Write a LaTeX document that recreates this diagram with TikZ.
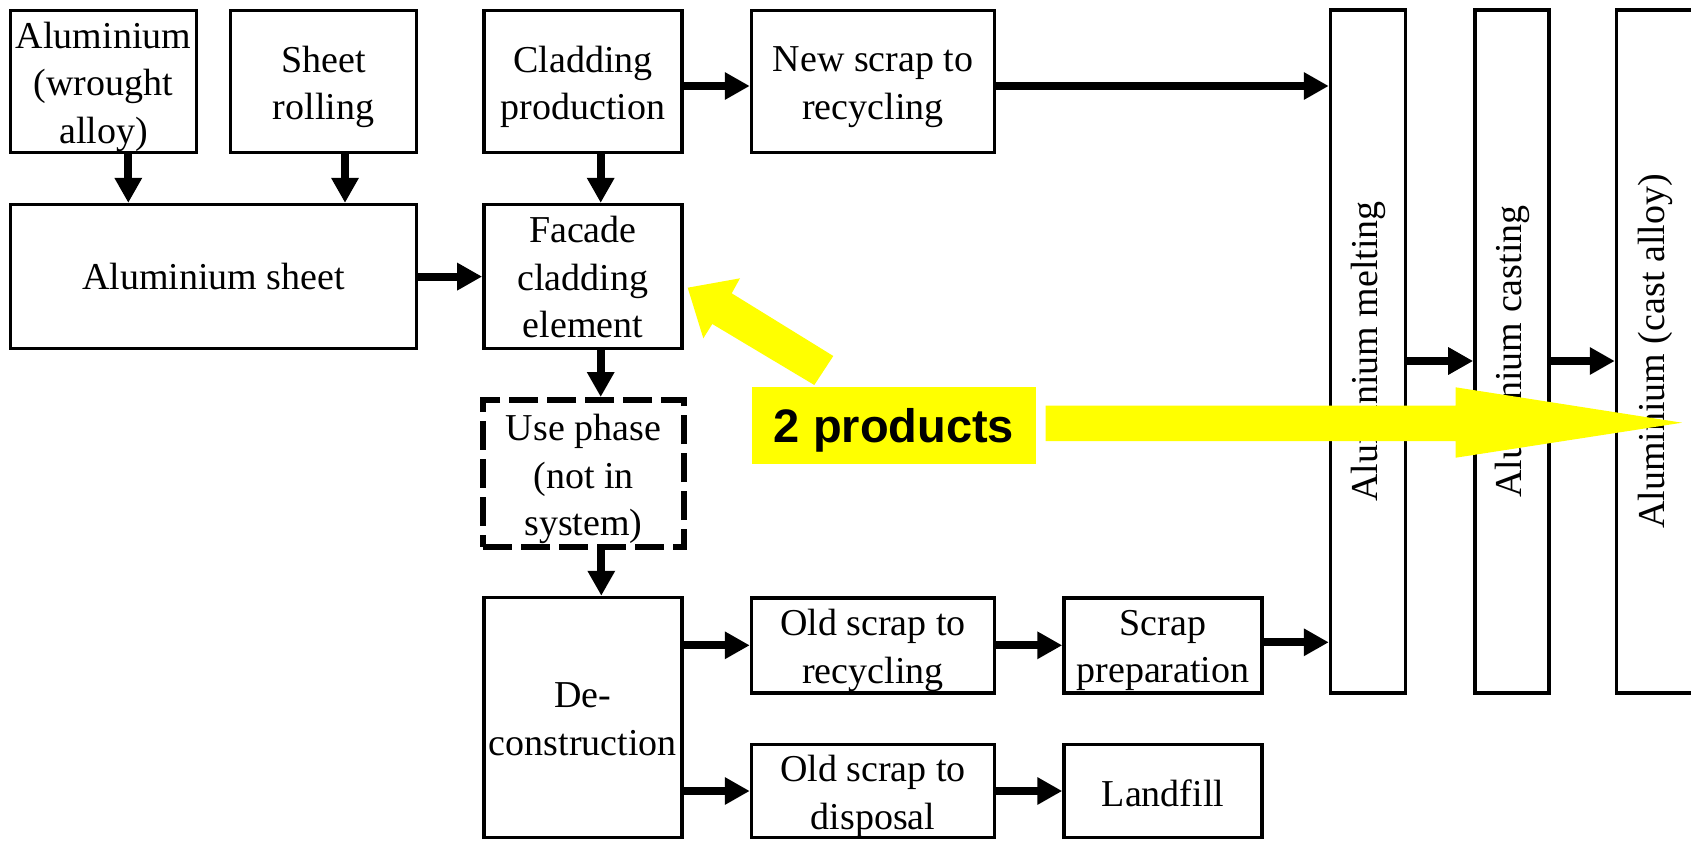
\documentclass[tikz,border=0pt]{standalone}
\usepackage{fontspec}
\setmainfont{Liberation Serif}
\newfontfamily\labelfont{Liberation Sans}
\usetikzlibrary{arrows.meta}

\definecolor{hilite}{RGB}{255,255,0}

\tikzset{
  box/.style={draw, line width=3.5pt, inner sep=0pt},
  dashbox/.style={box, line width=6pt, dash pattern=on 29pt off 9pt},
  txt/.style={inner sep=0pt, align=center, font=\fontsize{38}{47.5}\selectfont},
  vtext/.style={txt, rotate=90},
  flow/.style={line width=8pt, -{Triangle[length=25pt,width=26pt]}},
  callout/.style={fill=hilite, draw=none, inner sep=0pt},
  callouttxt/.style={inner sep=0pt, font=\labelfont\bfseries\fontsize{47}{50}\selectfont},
}

\begin{document}
\begin{tikzpicture}[x=1pt, y=-1pt]
\useasboundingbox (0,0) rectangle (1691,841);
\clip (0,0) rectangle (1691,841);

% production chain
\node[box, minimum width=186pt, minimum height=142pt] (alw) at (103.5,81.4) {};
\node[box, minimum width=186pt, minimum height=142pt] (roll) at (323.5,81.4) {};
\node[box, minimum width=198pt, minimum height=142pt] (clprod) at (582.9,81.4) {};
\node[box, minimum width=243pt, minimum height=142pt] (newscrap) at (873,81.4) {};
\node[box, minimum width=406pt, minimum height=144pt] (sheet) at (213.5,276.6) {};
\node[box, minimum width=198pt, minimum height=144pt] (facade) at (582.9,276.6) {};
\node[dashbox, minimum width=201pt, minimum height=147pt] (use) at (583.5,473.5) {};
\node[box, minimum width=198pt, minimum height=240pt] (decon) at (582.9,717.5) {};

\node[txt] (alw-t) at ([yshift=-5.4pt]alw.center) {Aluminium\\(wrought\\alloy)};
\node[txt] (roll-t) at ([yshift=-5.4pt]roll.center) {Sheet\\rolling};
\node[txt] (clprod-t) at ([yshift=-5.4pt]clprod.center) {Cladding\\production};
\node[txt] (newscrap-t) at ([yshift=-5.6pt]newscrap.center) {New scrap to\\recycling};
\node[txt] (sheet-t) at (sheet.center) {Aluminium sheet};
\node[txt] (facade-t) at ([yshift=-0.5pt]facade.center) {Facade\\cladding\\element};
\node[txt] (use-t) at ([yshift=-5.5pt]use.center) {Use phase\\(not in\\system)};
\node[txt] (decon-t) at ([yshift=-1.5pt]decon.center) {De-\\construction};

% end of life
\node[box, minimum width=243pt, minimum height=95pt] (oldrec) at (873,645.3) {};
\node[box, minimum width=198pt, minimum height=95pt] (prep) at (1163,645.3) {};
\node[box, minimum width=243pt, minimum height=93pt] (olddisp) at (873,791) {};
\node[box, minimum width=198pt, minimum height=93pt] (landfill) at (1163,791) {};

\node[txt] (oldrec-t) at ([yshift=-5pt]oldrec.center) {Old scrap to\\recycling};
\node[txt] (prep-t) at ([yshift=-5.4pt]prep.center) {Scrap\\preparation};
\node[txt] (olddisp-t) at ([yshift=-5.4pt]olddisp.center) {Old scrap to\\disposal};
\node[txt] (landfill-t) at ([yshift=-2pt]landfill.center) {Landfill};

% recycling columns
\node[box, minimum width=75pt, minimum height=683pt] (melt) at (1368,351.5) {};
\node[box, minimum width=74pt, minimum height=683pt] (cast) at (1511.9,351.5) {};
\node[box, minimum width=77pt, minimum height=683pt] (alloy) at (1655,351.5) {};
\node[vtext] (melt-t) at (melt) {Aluminium melting};
\node[vtext] (cast-t) at (cast) {Aluminium casting};
\node[vtext] (alloy-t) at (alloy) {Aluminium (cast alloy)};

% connectors
\draw[flow] ([xshift=24.8pt]alw.south) -- ([xshift=24.8pt]alw.south |- sheet.north);
\draw[flow] ([xshift=21.5pt]roll.south) -- ([xshift=21.5pt]roll.south |- sheet.north);
\draw[flow] ([xshift=17.8pt]clprod.south) -- ([xshift=17.8pt]clprod.south |- facade.north);
\draw[flow] (sheet.east) -- (facade.west);
\coordinate (c1) at ([yshift=-4.6pt]clprod.east);
\draw[flow] (c1) -- (c1 -| newscrap.west);
\coordinate (c2) at ([yshift=-4.6pt]newscrap.east);
\draw[flow] (c2) -- (c2 -| melt.west);
\draw[flow] ([xshift=17.8pt]facade.south) -- ([xshift=17.8pt]facade.south |- use.north);
\draw[flow] ([xshift=17.8pt]use.south) -- ([xshift=17.8pt]use.south |- decon.north);
\draw[flow] (decon.east |- oldrec.west) -- (oldrec.west);
\draw[flow] (decon.east |- olddisp.west) -- (olddisp.west);
\draw[flow] (oldrec.east) -- (prep.west);
\draw[flow] (olddisp.east) -- (landfill.west);
\coordinate (c3) at ([yshift=3pt]prep.east);
\draw[flow] (c3) -- (c3 -| melt.west);
\coordinate (c4) at ([yshift=-9.5pt]melt.east);
\draw[flow] (c4) -- (c4 -| cast.west);
\coordinate (c5) at ([yshift=-9.5pt]cast.east);
\draw[flow] (c5) -- (c5 -| alloy.west);

% highlighted note with its two block arrows
\node[callout, minimum width=284.7pt, minimum height=76.7pt] (note) at (894,425.4) {};
\node[callouttxt] (note-t) at ([yshift=-5.4pt]note.center) {2 products};
\fill[hilite] (833.3,356) -- (731.7,293.3) -- (740,278.3) -- (687.7,287.7)
  -- (703.3,338.3) -- (712.3,324) -- (814.3,385) -- cycle;
\fill[hilite] (1045.7,405.5) -- (1455.7,405.5) -- (1455.7,387.3) -- (1682,422.7)
  -- (1455.7,457.7) -- (1455.7,441) -- (1045.7,441) -- cycle;
\end{tikzpicture}
\end{document}
